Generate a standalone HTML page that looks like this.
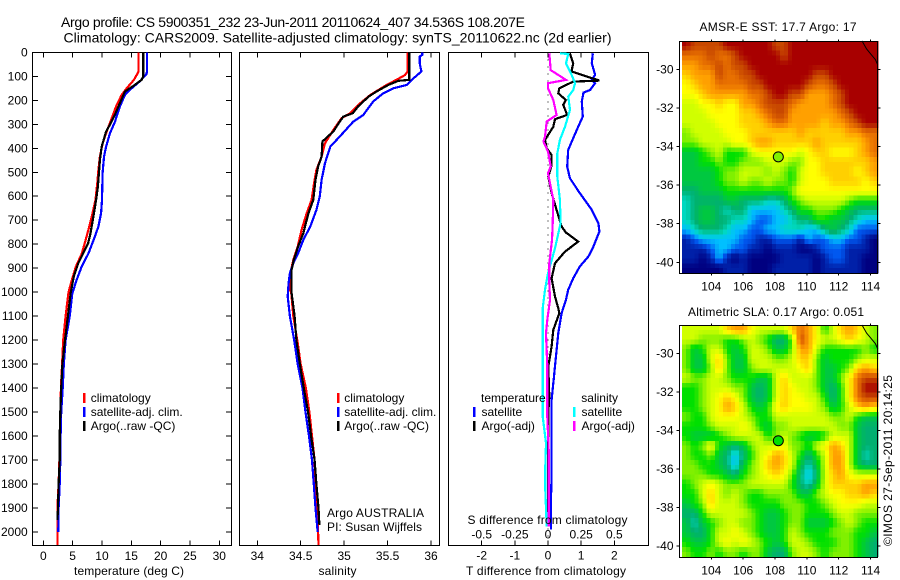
<!DOCTYPE html>
<html lang="en">
<head>
<meta charset="utf-8">
<title>Argo profile chart</title>
<style>
html,body{margin:0;padding:0;background:#fff;}
svg{display:block;}
text{font-family:"Liberation Sans",sans-serif;font-size:12px;fill:#000;}
.t{font-size:14px;}
</style>
</head>
<body>
<svg id="chart" width="900" height="580" viewBox="0 0 900 580" xmlns="http://www.w3.org/2000/svg">
<rect width="900" height="580" fill="#fff"/>
<g id="panels"></g>
<text class="t" x="61" y="27" textLength="464">Argo profile: CS 5900351_232 23-Jun-2011 20110624_407 34.536S 108.207E</text>
<text class="t" x="63.5" y="42.5" textLength="548">Climatology: CARS2009. Satellite-adjusted climatology: synTS_20110622.nc (2d earlier)</text>
<text x="129" y="575" text-anchor="middle" textLength="110">temperature (deg C)</text>
<text x="337.5" y="575" text-anchor="middle" textLength="38">salinity</text>
<text x="466" y="575" textLength="160">T difference from climatology</text>
<text x="467.5" y="524" textLength="160">S difference from climatology</text>
<text x="327" y="517" textLength="97">Argo AUSTRALIA</text>
<text x="327" y="531" textLength="95">PI: Susan Wijffels</text>
<text x="778" y="31" text-anchor="middle" textLength="157">AMSR-E SST: 17.7 Argo: 17</text>
<text x="776" y="316" text-anchor="middle" textLength="176">Altimetric SLA: 0.17 Argo: 0.051</text>
<text transform="translate(892,546) rotate(-90)" textLength="171">©IMOS 27-Sep-2011 20:14:25</text>
</svg>
<script>
// ---- axis tick labels ----
const depthTicks = [0,100,200,300,400,500,600,700,800,900,1000,1100,1200,1300,1400,1500,1600,1700,1800,1900,2000];
const tempTicks = [0,5,10,15,20,25,30];
const salTicks = [34,34.5,35,35.5,36];
const salTickLabels = ['34','34.5','35','35.5','36'];
const dTTicks = [-2,-1,0,1,2];
const dSTicks = [-0.5,-0.25,0,0.25,0.5];
const lonTicks = [104,106,108,110,112,114];
const latTicks = [-30,-32,-34,-36,-38,-40];

// ---- temperature panel ----
const tempClimDepth = [0,80,115,150,178,220,275,330,380,435,490,545,615,670,725,780,840,893,950,1000,1100,1200,1300,1400,1500,1600,1700,1800,1900,2000,2054];
const tempClimValue = [16.25,16.25,15.45,14.2,13.35,12.5,11.65,10.8,10.1,9.65,9.4,9.2,8.9,8.4,7.85,7.25,6.55,5.55,4.85,4.3,3.8,3.4,3.2,3.0,2.95,2.85,2.75,2.6,2.4,2.4,2.4];
const tempSatDepth = [0,75,90,120,150,178,226,290,338,393,435,504,615,670,726,768,838,893,948,1005,1100,1200,1300,1400,1500,1600,1700,1800,1900,2000];
const tempSatValue = [17.7,17.7,17.6,16.5,15.05,13.9,13.05,12.2,11.35,10.7,10.35,10.1,10,9.85,9.4,8.8,7.7,6.55,5.7,4.95,4.5,3.8,3.5,3.3,3.05,2.95,2.9,2.8,2.6,2.55];
const tempArgoDepth = [0,100,115,140,164,212,260,302,330,393,449,560,615,670,754,795,838,880,935,1005,1100,1200,1300,1400,1500,1600,1700,1800,1900,1950];
const tempArgoValue = [17.05,17.05,16.75,15.35,13.9,13.05,12.2,11.35,10.7,9.95,9.65,9.3,9,8.65,8.05,7.65,6.8,5.95,5.2,4.65,4.2,3.7,3.25,3.05,2.9,2.8,2.8,2.6,2.5,2.4];

// ---- salinity panel ----
const salClimDepth = [0,80,95,115,136,178,220,254,275,324,379,435,490,532,615,670,740,810,865,907,990,1000,1100,1200,1300,1400,1500,1600,1700,1800,1900,2000,2054];
const salClimValue = [35.73,35.73,35.7,35.6,35.49,35.3,35.16,35.07,34.97,34.875,34.78,34.74,34.68,34.66,34.625,34.57,34.51,34.465,34.415,34.39,34.375,34.39,34.415,34.46,34.5,34.56,34.6,34.63,34.66,34.67,34.69,34.7,34.705];
const salSatDepth = [0,11,18,46,80,108,136,150,171,205,261,289,351,393,462,532,600,657,726,782,838,879,921,962,1018,1100,1200,1300,1400,1500,1600,1700,1800,1900,2000];
const salSatValue = [35.9,35.9,35.87,35.87,35.89,35.8,35.72,35.565,35.45,35.335,35.22,35.105,34.95,34.84,34.78,34.74,34.72,34.68,34.61,34.53,34.47,34.415,34.375,34.36,34.35,34.375,34.425,34.465,34.52,34.555,34.595,34.63,34.65,34.67,34.695];
const salArgoDepth = [0,115,119,136,164,185,226,254,268,289,330,372,435,476,532,615,670,754,810,865,907,1004,1100,1200,1300,1400,1500,1600,1700,1800,1900,1970];
const salArgoValue = [35.75,35.75,35.625,35.51,35.37,35.28,35.16,35.1,34.99,34.95,34.875,34.75,34.74,34.7,34.67,34.645,34.59,34.53,34.47,34.42,34.395,34.395,34.43,34.45,34.49,34.535,34.585,34.62,34.66,34.68,34.705,34.715];

// ---- difference panel ----
const diffTSatDepth = [4,46,94,115,129,157,168,205,268,310,358,407,476,525,587,657,712,747,810,851,893,942,990,1032,1088,1171,1282,1351,1449,1588,1754,1865,1990];
const diffTSatValue = [1.35,1.32,1.42,1.32,1.42,1.27,1.07,1.02,1.05,0.91,0.76,0.61,0.58,0.66,0.96,1.32,1.52,1.55,1.37,1.22,0.96,0.76,0.61,0.54,0.41,0.31,0.23,0.18,0.11,0.11,0.11,0.09,0.09];
const diffTArgoDepth = [4,46,80,118,122,150,171,199,219,261,279,310,365,400,428,470,518,587,657,726,751,789,831,879,942,1018,1067,1088,1157,1226,1310,1435,1504,1643,1754,1949];
const diffTArgoValue = [0.66,0.76,0.71,1.55,0.76,0.34,0.31,0.54,0.46,0.58,0.21,0.16,-0.09,-0.04,0.11,0.11,0.01,0.11,0.26,0.41,0.54,0.91,0.51,0.21,0.11,0.21,0.31,0.34,0.16,0.11,0.01,0.04,0.01,0.01,0.01,0.01];
const diffSSatDepth = [4,7,46,94,129,157,185,240,310,365,421,518,615,712,817,921,990,1067,1171,1310,1518,1629,1726,1824,1976];
const diffSSatValue = [0.09,0.153,0.136,0.178,0.204,0.19,0.153,0.166,0.128,0.09,0.07,0.07,0.09,0.095,0.053,0,-0.023,-0.04,-0.04,-0.04,-0.04,-0.015,-0.02,-0.02,-0.01];
const diffSArgoDepth = [4,74,115,129,150,199,261,289,351,372,414,476,504,560,615,726,782,879,962,1032,1115,1171,1310,1518,1657,1865,1976];
const diffSArgoValue = [0.01,0.02,0.136,0,0,0.04,0.065,-0.01,-0.023,-0.035,0,0.02,0,0.02,0.04,0.035,0.03,0.01,0.01,0.015,-0.005,-0.015,-0.005,-0.005,0.005,0.005,0.005];

// ---- maps: values on the image's colour levels (0 = coldest/lowest, 15 = warmest/highest) ----
const sstRows = [
[15,14,14,14,14,15,15,15,15,15,15,14,14,15,15,15,15,15,15,15,15,15,15,15],
[13,13,13,14,13,13,14,15,15,15,15,15,14,15,15,15,15,15,15,15,15,15,15,15],
[12,12,13,13,14,13,14,14,15,15,15,15,15,15,15,15,15,15,15,15,15,15,15,15],
[11,12,12,12,14,13,13,14,14,15,15,15,15,15,15,15,14,14,15,15,15,15,15,15],
[10,11,12,12,13,13,13,13,14,14,15,15,15,15,15,14,13,13,14,15,15,15,15,15],
[10,10,11,12,12,12,12,12,13,13,14,15,15,14,14,12,12,12,13,14,15,15,15,15],
[9,9,10,10,11,10,10,12,12,13,14,14,14,13,12,12,12,12,13,14,15,15,15,15],
[9,9,9,10,10,10,10,11,11,12,13,14,14,12,12,12,12,12,12,13,14,15,15,15],
[9,9,9,9,10,10,10,11,11,11,12,13,13,12,12,12,12,11,12,12,13,14,15,15],
[8,9,9,9,9,10,10,10,11,11,11,11,11,11,12,11,11,11,11,11,12,12,13,13],
[8,8,9,9,9,9,10,10,11,12,12,11,11,11,11,11,12,11,11,11,11,11,12,13],
[6,6,7,8,9,7,7,7,9,10,10,10,10,10,9,10,11,11,10,10,10,11,12,13],
[6,6,7,7,8,7,7,8,8,8,9,9,9,8,8,10,10,11,11,11,11,11,11,12],
[6,6,6,6,7,8,8,9,9,9,8,9,8,7,9,10,10,11,11,11,11,10,11,12],
[6,6,6,6,7,8,8,9,8,8,9,8,8,7,9,10,10,10,11,11,11,11,10,11],
[5,5,6,6,6,7,7,7,7,7,7,7,7,8,10,10,10,10,10,10,10,10,10,10],
[4,5,5,5,5,6,6,5,5,5,4,4,5,7,8,9,9,9,9,9,8,7,7,7],
[4,5,6,6,5,4,5,5,3,3,3,3,4,5,7,7,8,8,8,7,6,5,5,5],
[4,5,6,6,5,5,4,4,3,2,2,3,3,4,5,5,7,7,6,6,5,4,3,3],
[3,4,5,5,5,4,3,3,2,2,3,3,4,4,4,3,3,5,6,5,4,2,2,2],
[1,2,3,3,3,3,3,2,2,1,1,2,2,2,1,3,2,2,3,3,2,2,1,0],
[1,1,1,2,3,3,2,2,1,1,0,1,1,1,0,0,1,2,2,2,1,1,1,0],
[1,1,0,1,3,1,0,1,0,0,0,0,1,1,1,1,0,1,2,2,1,1,0,0],
[0,0,0,0,0,1,1,1,0,0,0,1,1,1,1,1,0,1,1,1,1,1,0,0]
];
const slaRows = [
[9,9,9,9,9,11,12,12,10,9,9,9,9,11,13,12,10,7,9,11,12,11,9,8],
[9,9,8,8,8,7,7,8,9,8,7,5,5,8,14,12,10,9,9,10,11,10,9,8],
[8,6,7,9,9,7,6,7,9,9,8,6,6,8,12,12,9,7,7,7,7,7,8,7],
[8,6,6,9,11,8,6,6,9,9,9,8,8,9,11,11,8,6,7,7,7,8,9,9],
[8,6,6,8,11,8,6,6,8,9,9,9,9,9,10,11,8,6,6,7,8,11,12,11],
[9,8,8,9,9,8,7,7,7,6,6,9,11,9,9,9,8,6,6,8,10,13,14,14],
[7,7,8,9,9,9,8,8,6,5,6,9,11,10,9,9,8,6,5,7,10,13,15,15],
[7,7,8,9,10,11,10,8,6,5,6,9,11,10,10,9,9,7,5,7,10,13,14,14],
[7,7,8,9,10,12,11,9,7,6,7,10,11,10,10,10,9,8,6,7,9,11,12,11],
[8,7,7,9,10,10,10,9,8,7,7,9,9,9,9,9,9,9,8,8,9,7,6,6],
[7,7,7,8,9,9,9,10,9,7,6,8,8,9,9,9,9,9,9,8,8,6,5,5],
[7,6,6,6,7,8,9,9,9,9,7,8,9,8,7,6,6,7,9,9,9,6,5,5],
[8,7,8,10,7,6,5,6,8,9,9,9,10,8,8,7,9,10,12,11,9,6,5,5],
[8,7,7,8,6,5,3,5,7,9,10,12,11,9,7,5,7,9,12,12,9,6,4,5],
[8,8,7,7,6,5,3,6,8,9,11,12,11,9,6,4,6,9,12,12,9,6,5,5],
[8,8,8,7,7,6,5,7,8,9,10,11,10,8,5,3,5,9,11,12,10,9,9,9],
[7,8,9,10,9,8,8,8,9,9,9,9,9,7,5,4,6,9,11,11,11,11,12,12],
[7,7,9,11,9,8,9,8,7,7,8,8,8,8,6,6,8,9,10,10,11,11,12,11],
[6,7,8,11,9,9,9,8,7,7,7,7,8,8,8,7,7,8,9,10,10,10,9,9],
[5,5,7,9,9,9,9,9,8,7,6,6,7,8,8,7,7,7,8,9,9,8,8,8],
[6,4,6,7,8,9,9,8,8,7,6,6,7,8,8,6,6,6,7,8,9,8,7,7],
[6,5,5,7,9,9,10,9,8,7,6,6,7,9,8,7,7,7,8,8,8,7,7,6],
[7,6,6,7,9,10,9,10,9,8,7,6,7,9,9,8,7,7,7,8,8,7,6,5],
[8,7,7,8,7,8,8,7,8,8,6,5,5,8,9,9,8,7,8,8,8,7,6,5]
];
const coastLon = [113.46,113.75,114.05,114.3,114.45];
const coastLat = [-28.53,-28.95,-29.25,-29.5,-29.78];
const floatLon = 108.207;
const floatLat = -34.536;
const sstFloatLevel = 8;
const slaFloatLevel = 7;
const gridLonStart = 102.17;
const gridLonEnd = 114.45;
const gridLatStart = -28.53;
const gridLatEnd = -40.55;

// ---- colour scale ----
const levelColors = [[0,0,128],[0,32,168],[0,88,240],[0,192,255],[0,216,192],[0,176,112],[0,200,64],[0,224,0],[128,240,0],[208,255,0],[255,255,0],[255,208,0],[255,160,0],[232,112,0],[200,72,0],[168,0,0]];
function levelColor(lvl) {
  const v = Math.max(0, Math.min(15, lvl));
  const i = Math.min(14, Math.floor(v));
  const f = v - i;
  const a = levelColors[i], b = levelColors[i + 1];
  return 'rgb(' + [0,1,2].map(k => Math.round(a[k] + (b[k] - a[k]) * f)).join(',') + ')';
}

// ---- axis functions ----
const depthY = d => 52.3 + d * 0.2399;
const tempX = v => 43.3 + v * 5.867;
const salX = v => 257.3 + (v - 34) * 86.85;
const dTX = v => 548 + v * 33.15;
const dSX = v => 548 + v * 132.6;
const lonX = v => 711.3 + (v - 104) * 15.93;
const sstLatY = v => 69.3 + (-30 - v) * 19.3;
const slaLatY = v => 353.3 + (-30 - v) * 19.27;

const NS = 'http://www.w3.org/2000/svg';
const root = document.getElementById('panels');
function make(tag, attrs, parent) {
  const e = document.createElementNS(NS, tag);
  for (const k in attrs) e.setAttribute(k, attrs[k]);
  (parent || root).appendChild(e);
  return e;
}
function frame(x, y, w, h, name) {
  const r = make('rect', {x:x, y:y, width:w, height:h, fill:'none', stroke:'#000', 'stroke-width':1, 'shape-rendering':'crispEdges'});
  
  
}
function tick(x1, y1, x2, y2, name) {
  const l = make('line', {x1:x1, y1:y1, x2:x2, y2:y2, stroke:'#000', 'stroke-width':1, 'shape-rendering':'crispEdges'});
  
  
}
function label(x, y, txt, anchor, name) {
  const t = make('text', {x:x, y:y, 'text-anchor':anchor});
  t.textContent = txt;
  
  
}
function curve(xf, vals, depths, color, name) {
  const pts = vals.map((v, i) => xf(v).toFixed(1) + ',' + depthY(depths[i]).toFixed(1)).join(' ');
  const p = make('polyline', {points:pts, fill:'none', stroke:color, 'stroke-width':2.2, 'stroke-linejoin':'miter', 'shape-rendering':'crispEdges'});
  
  
}
function legendEntry(barX, textX, baseline, color, txt, name) {
  const b = make('rect', {x:barX - 1, y:baseline - 9, width:2.4, height:10, fill:color, 'shape-rendering':'crispEdges'});
  
  
  label(textX, baseline, txt, 'start', name);
}

// frames
const panelTop = 52.5, panelBottom = 545.5;
frame(32.5, panelTop, 199, panelBottom - panelTop, 'temperature-panel-frame');
frame(239.5, panelTop, 200, panelBottom - panelTop, 'salinity-panel-frame');
frame(448.5, panelTop, 200, panelBottom - panelTop, 'difference-panel-frame');

// depth axis
depthTicks.forEach(d => {
  const y = depthY(d);
  tick(32.5, y, 38, y, 'depth-tick-left');
  tick(226, y, 231.5, y, 'depth-tick-right');
  label(27.7, y + 4, String(d), 'end', 'depth-tick-label');
});
// temperature axis
tempTicks.forEach(v => {
  const x = tempX(v);
  tick(x, panelTop, x, panelTop + 5, 'temperature-tick-top');
  tick(x, panelBottom - 5, x, panelBottom, 'temperature-tick-bottom');
  label(x, 560, String(v), 'middle', 'temperature-tick-label');
});
// salinity axis
salTicks.forEach((v, i) => {
  const x = salX(v);
  tick(x, panelTop, x, panelTop + 5, 'salinity-tick-top');
  tick(x, panelBottom - 5, x, panelBottom, 'salinity-tick-bottom');
  label(x, 560, salTickLabels[i], 'middle', 'salinity-tick-label');
});
// difference axes
dTTicks.forEach(v => {
  const x = dTX(v);
  tick(x, panelTop, x, panelTop + 5, 'difference-tick-top');
  tick(x, panelBottom - 5, x, panelBottom, 'difference-tick-bottom');
  label(x, 559.5, String(v), 'middle', 'difference-t-tick-label');
});
dSTicks.forEach(v => {
  label(dSX(v), 538.7, String(v), 'middle', 'difference-s-tick-label');
});

// zero line
const zeroLine = make('line', {x1:dTX(0), y1:panelTop, x2:dTX(0), y2:panelBottom, stroke:'#000', 'stroke-width':1, 'stroke-dasharray':'1 6', 'shape-rendering':'crispEdges'});



// series
curve(tempX, tempClimValue, tempClimDepth, '#ff0000', 'temperature-climatology-line');
curve(tempX, tempSatValue, tempSatDepth, '#0000ff', 'temperature-satellite-line');
curve(tempX, tempArgoValue, tempArgoDepth, '#000000', 'temperature-argo-line');
curve(salX, salClimValue, salClimDepth, '#ff0000', 'salinity-climatology-line');
curve(salX, salSatValue, salSatDepth, '#0000ff', 'salinity-satellite-line');
curve(salX, salArgoValue, salArgoDepth, '#000000', 'salinity-argo-line');
curve(dTX, diffTSatValue, diffTSatDepth, '#0000ff', 'difference-t-satellite-line');
curve(dTX, diffTArgoValue, diffTArgoDepth, '#000000', 'difference-t-argo-line');
curve(dSX, diffSSatValue, diffSSatDepth, '#00ffff', 'difference-s-satellite-line');
curve(dSX, diffSArgoValue, diffSArgoDepth, '#ff00ff', 'difference-s-argo-line');

// legends
legendEntry(84, 90.7, 402, '#ff0000', 'climatology', 'temperature-legend-climatology');
legendEntry(84, 90.7, 416, '#0000ff', 'satellite-adj. clim.', 'temperature-legend-satellite');
legendEntry(84, 90.7, 430, '#000000', 'Argo(..raw -QC)', 'temperature-legend-argo');
legendEntry(338, 344.3, 402, '#ff0000', 'climatology', 'salinity-legend-climatology');
legendEntry(338, 344.3, 416, '#0000ff', 'satellite-adj. clim.', 'salinity-legend-satellite');
legendEntry(338, 344.3, 430, '#000000', 'Argo(..raw -QC)', 'salinity-legend-argo');
label(481, 402, 'temperature', 'start', 'difference-legend-temperature-heading');
label(581.3, 402, 'salinity', 'start', 'difference-legend-salinity-heading');
legendEntry(474, 481.5, 416, '#0000ff', 'satellite', 'difference-legend-t-satellite');
legendEntry(474, 481.5, 430, '#000000', 'Argo(-adj)', 'difference-legend-t-argo');
legendEntry(574, 581.5, 416, '#00ffff', 'satellite', 'difference-legend-s-satellite');
legendEntry(574, 581.5, 430, '#ff00ff', 'Argo(-adj)', 'difference-legend-s-argo');

// maps: each array value is drawn as a 2x2 block of tiles, shaded toward its neighbours
function sampleRows(rows, r, c) {
  const nr = rows.length, nc = rows[0].length;
  const rr = Math.max(0, Math.min(nr - 1, r));
  const cc = Math.max(0, Math.min(nc - 1, c));
  const r0 = Math.floor(rr), c0 = Math.floor(cc);
  const r1 = Math.min(nr - 1, r0 + 1), c1 = Math.min(nc - 1, c0 + 1);
  const fr = rr - r0, fc = cc - c0;
  return (rows[r0][c0] * (1 - fc) + rows[r0][c1] * fc) * (1 - fr) + (rows[r1][c0] * (1 - fc) + rows[r1][c1] * fc) * fr;
}
function drawMap(rows, latY, floatLevel, prefix) {
  const sub = 2;
  const nr = rows.length * sub, nc = rows[0].length * sub;
  const cw = (lonX(gridLonEnd) - lonX(gridLonStart)) / nc;
  const ch = (latY(gridLatEnd) - latY(gridLatStart)) / nr;
  for (let r = 0; r < nr; r++) {
    for (let c = 0; c < nc; c++) {
      const lvl = sampleRows(rows, (r + 0.5) / sub - 0.5, (c + 0.5) / sub - 0.5);
      const cell = make('rect', {
        x:(lonX(gridLonStart) + c * cw).toFixed(2),
        y:(latY(gridLatStart) + r * ch).toFixed(2),
        width:(cw + 0.6).toFixed(2),
        height:(ch + 0.6).toFixed(2),
        fill:levelColor(lvl),
        'shape-rendering':'crispEdges'
      });
      
      
    }
  }
  const top = Math.round(latY(gridLatStart)) + 0.5;
  const bottom = Math.round(latY(gridLatEnd)) + 0.5;
  frame(679.5, top, 198, bottom - top, prefix + '-frame');
  const coast = make('polyline', {points:coastLon.map((v, i) => lonX(v).toFixed(1) + ',' + latY(coastLat[i]).toFixed(1)).join(' '), fill:'none', stroke:'#000', 'stroke-width':1});
  
  
  lonTicks.forEach(v => {
    const x = lonX(v);
    tick(x, top - 2, x, top, prefix + '-lon-tick-top');
    tick(x, bottom, x, bottom + 2, prefix + '-lon-tick-bottom');
    label(x, bottom + 17, String(v), 'middle', prefix + '-lon-label');
  });
  latTicks.forEach(v => {
    const y = latY(v);
    tick(676.5, y, 679.5, y, prefix + '-lat-tick-left');
    tick(877.5, y, 880.5, y, prefix + '-lat-tick-right');
    label(673.5, y + 4, String(v), 'end', prefix + '-lat-label');
  });
  const m = make('circle', {cx:lonX(floatLon), cy:latY(floatLat), r:5, fill:levelColor(floatLevel), stroke:'#000', 'stroke-width':1});
  
  
}
drawMap(sstRows, sstLatY, sstFloatLevel, 'sst-map');
drawMap(slaRows, slaLatY, slaFloatLevel, 'sla-map');
</script>
</body>
</html>
